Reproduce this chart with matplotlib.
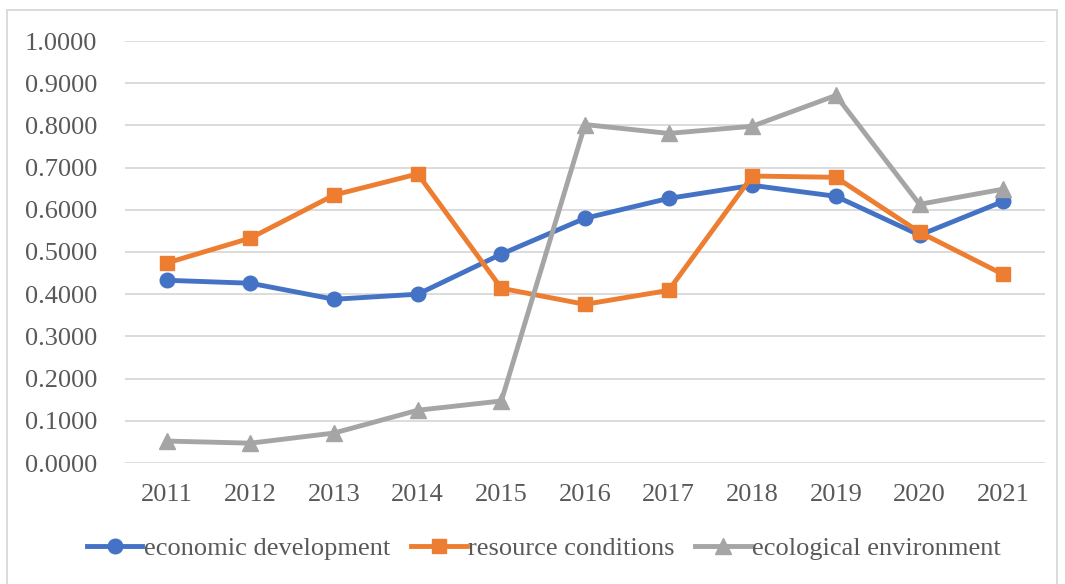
import matplotlib.pyplot as plt
from matplotlib.patches import Rectangle

# years on the category axis
years = ['2011', '2012', '2013', '2014', '2015', '2016', '2017', '2018', '2019', '2020', '2021']
# index values
economic = [0.433, 0.426, 0.388, 0.400, 0.495, 0.580, 0.627, 0.658, 0.632, 0.540, 0.620]
resource = [0.474, 0.533, 0.635, 0.685, 0.414, 0.376, 0.409, 0.680, 0.677, 0.547, 0.447]
ecological = [0.052, 0.047, 0.071, 0.125, 0.147, 0.802, 0.781, 0.798, 0.871, 0.613, 0.649]

plt.rcParams['font.family'] = ['Liberation Serif', 'DejaVu Serif']

fig = plt.figure(figsize=(10.65, 5.84), dpi=100)
# plot area in pixels: x 125..1045, y 41..463 (from top)
ax = fig.add_axes([125 / 1065, 1 - 463 / 584, 920 / 1065, 422 / 584])

x = range(len(years))
ax.plot(x, economic, color='#4472C4', lw=3.5, marker='o', ms=10.5, label='economic development')
ax.plot(x, resource, color='#ED7D31', lw=3.5, marker='s', ms=10.5, label='resource conditions')
ax.plot(x, ecological, color='#A5A5A5', lw=3.5, marker='^', ms=11.5, label='ecological environment')

ax.set_xlim(-0.5, len(years) - 0.5)
ax.set_ylim(0, 1.0)
ax.set_yticks([i / 10 for i in range(11)])
ax.set_yticklabels(['%.4f' % (i / 10) for i in range(11)])
ax.set_xticks(list(x))
ax.set_xticklabels(years)
ax.grid(axis='y', color='#D9D9D9', lw=1.3)
ax.set_axisbelow(True)
for s in ax.spines.values():
    s.set_visible(False)
ax.tick_params(length=0, labelsize=19, labelcolor='#595959')
ax.tick_params(axis='y', pad=20)
ax.tick_params(axis='x', pad=15)

ax.legend(loc='center', bbox_to_anchor=(544 / 1065, 1 - 548 / 584), bbox_transform=fig.transFigure,
          ncol=3, frameon=False, fontsize=19, labelcolor='#595959', handlelength=2.1,
          handletextpad=0.05, columnspacing=0.8)

# light chart border
fig.patches.append(Rectangle((7 / 1065, -0.01), 1050 / 1065, 1 - 10 / 584 + 0.01,
                             transform=fig.transFigure, fill=False, ec='#D9D9D9', lw=1.3))

fig.savefig('out.png', dpi=100)
